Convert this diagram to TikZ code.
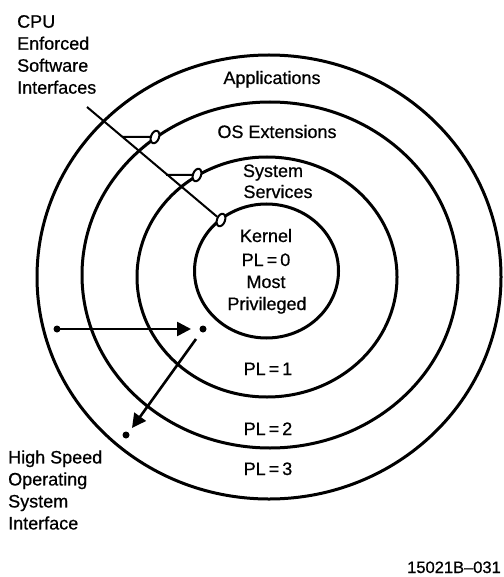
\documentclass[tikz,border=0pt]{standalone}
\usepackage{fontspec}
\setmainfont{Liberation Sans}[FakeBold=0.7]
\usetikzlibrary{shapes.geometric,arrows.meta}
\begin{document}
\begin{tikzpicture}[x=1pt,y=-1pt,
  ring/.style={line width=3pt},
  lbl/.style={font=\fontsize{18}{22}\selectfont, inner sep=0pt, align=center},
  side/.style={font=\fontsize{18}{22}\selectfont, inner sep=0pt, align=left},
  conn/.style={line width=2pt},
  joint/.style={draw, ellipse, line width=2pt, minimum width=8pt, minimum height=13pt, inner sep=0pt, rotate=-20, fill=white},
  dotn/.style={circle, fill, inner sep=0pt, minimum size=7pt},
  arr/.style={line width=2.6pt, -{Triangle[length=14pt,width=14pt]}}]
\useasboundingbox (0,0) rectangle (503,577);
% rings
\draw[ring] (269,277) ellipse [x radius=232pt, y radius=222pt];
\draw[ring] (270,275) ellipse [x radius=188pt, y radius=173pt];
\draw[ring] (267,277) ellipse [x radius=130pt, y radius=120pt];
\draw[ring] (266.5,271) ellipse [x radius=72pt, y radius=67pt];
% ring labels
\node[lbl, anchor=base] (apps) at (272,84) {Applications};
\node[lbl, anchor=base] (osext) at (277,138) {OS Extensions};
\node[lbl, anchor=base] (sys) at (273,177) {System};
\node[lbl, anchor=base] (serv) at (278,198) {Services};
\node[lbl, anchor=base] (kern) at (266,242) {Kernel};
\node[lbl, anchor=base] (pl0) at (266,266) {PL\thinspace=\thinspace0};
\node[lbl, anchor=base] (most) at (266,288) {Most};
\node[lbl, anchor=base] (priv) at (267,310) {Privileged};
\node[lbl, anchor=base] (pl1) at (268,375) {PL\thinspace=\thinspace1};
\node[lbl, anchor=base] (pl2) at (268,435) {PL\thinspace=\thinspace2};
\node[lbl, anchor=base] (pl3) at (268,475) {PL\thinspace=\thinspace3};
% side labels
\node[side, anchor=west] (cpu) at (17,54.5) {CPU\\Enforced\\Software\\Interfaces};
\node[side, anchor=west] (hsos) at (8,490) {High Speed\\Operating\\System\\Interface};
\node[font=\fontsize{16.5}{20}\selectfont, inner sep=0pt, anchor=base east] (fig) at (501,573) {15021B--031};
% CPU enforced interfaces
\coordinate (cpus) at (87,107);
\coordinate (s1) at (122,137);
\coordinate (s2) at (166,175);
\node[joint] (j1) at (155,137) {};
\node[joint] (j2) at (197,175) {};
\node[joint] (jk) at (221,220) {};
\draw[conn] (cpus) -- (jk);
\draw[conn] (s1) -- (j1);
\draw[conn] (s2) -- (j2);
% high speed interface
\node[dotn] (d0) at (57,329) {};
\node[dotn] (d1) at (203,329) {};
\node[dotn] (d2) at (126,435) {};
\coordinate (a1) at (191,329);
\coordinate (a2s) at (196,339);
\coordinate (a2) at (132,428);
\draw[arr] (d0.center) -- (a1);
\draw[arr] (a2s) -- (a2);
\end{tikzpicture}
\end{document}
